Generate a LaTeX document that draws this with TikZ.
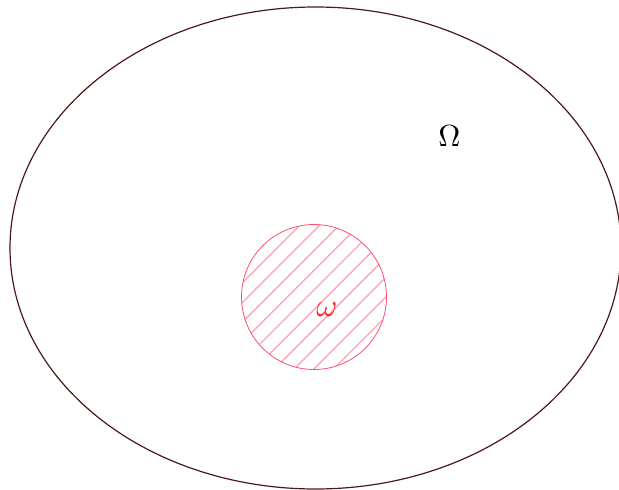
\documentclass[tikz,border=0pt]{standalone}
\usetikzlibrary{calc}
\begin{document}
\begin{tikzpicture}[x=1pt,y=-1pt]
\useasboundingbox (0,0) rectangle (619,490);
\definecolor{ellcol}{RGB}{75,25,25}
\definecolor{circcol}{RGB}{255,80,110}
\definecolor{hatchcol}{RGB}{255,165,190}
\definecolor{omcol}{RGB}{255,40,40}
\coordinate (E) at (315.5,248);
\coordinate (C) at (314,297);
\begin{scope}
  \clip (0,0) rectangle (619,490);
  \draw[line width=1.2pt, ellcol] (E) ellipse [x radius=305.5, y radius=241];
\end{scope}
\begin{scope}
  \clip (C) circle [radius=72.5];
  \foreach \k in {-7,...,7} {
    \draw[hatchcol, line width=1.4pt] ($(C)+(\k*9.85-3.5,\k*9.85-3.5)+(-100,100)$) -- ($(C)+(\k*9.85-3.5,\k*9.85-3.5)+(100,-100)$);
  }
\end{scope}
\draw[circcol, line width=0.8pt] (C) circle [radius=72.5];
\node[text=omcol, inner sep=0pt, scale=3.2] (w) at (327,309.5) {$\omega$};
\node[inner sep=0pt, scale=3.05] (W) at (449.5,136) {$\Omega$};
\end{tikzpicture}
\end{document}
